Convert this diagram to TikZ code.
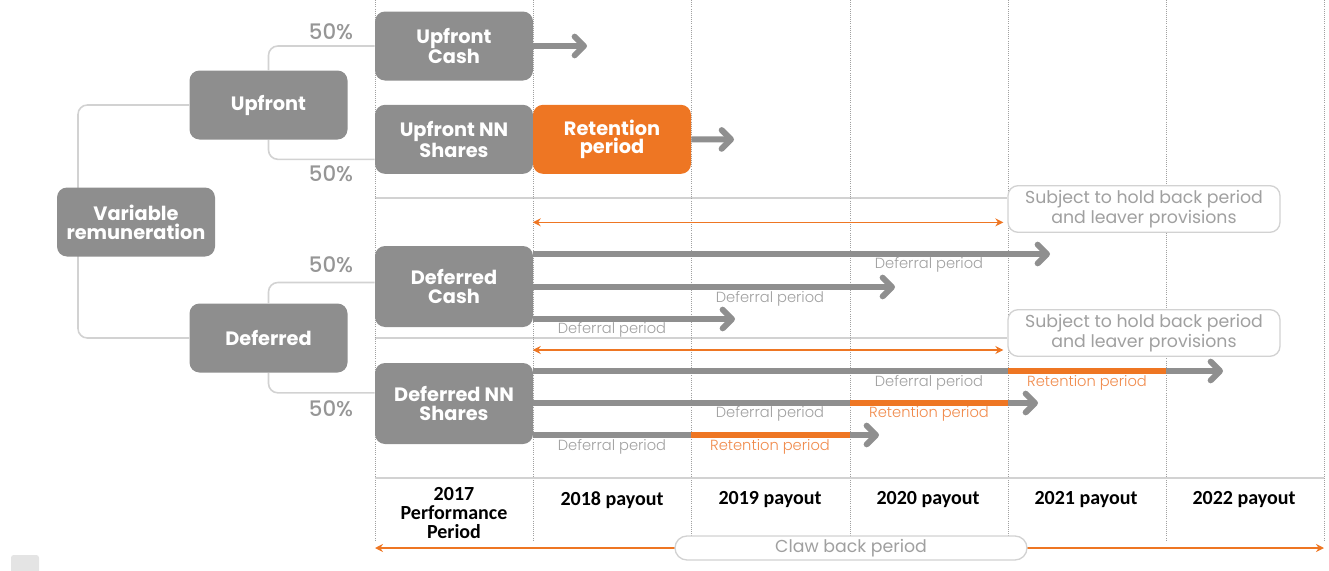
\documentclass[tikz,border=0pt]{standalone}
\usepackage{fontspec}
\usepackage{tikz}
\usetikzlibrary{arrows.meta, positioning, calc, backgrounds}
\newfontfamily\boxfont{Poppins}
\newfontfamily\thinfont{Poppins Light}
\newfontfamily\midfont{Poppins Medium}
\newfontfamily\tablefont{Carlito}
\definecolor{boxgrey}{HTML}{8E8E8E}
\definecolor{nnorange}{HTML}{EE7623}
\definecolor{linegrey}{HTML}{D2D2D2}
\definecolor{arrowgrey}{HTML}{8F8F8F}
\definecolor{labelgrey}{HTML}{A0A0A0}
\definecolor{retorange}{HTML}{F08A4B}
\tikzstyle{greybox} = [rectangle, rounded corners=7.5pt, minimum width=118.5pt, minimum height=51.75pt, align=center, inner sep=0pt, fill=boxgrey, text=white, font=\boxfont\bfseries\fontsize{14.5}{14}\selectfont]
\tikzstyle{retbox} = [greybox, fill=nnorange]
\tikzstyle{pct} = [text=labelgrey!110, font=\midfont\fontsize{16}{16}\selectfont]
\tikzstyle{holdbox} = [rectangle, rounded corners=7.5pt, minimum width=204pt, minimum height=34.5pt, align=center, draw=linegrey, line width=1pt, fill=white, text=labelgrey, font=\boxfont\fontsize{13}{15}\selectfont]
\tikzstyle{clawbox} = [rectangle, rounded corners=9pt, minimum width=264pt, minimum height=18pt, inner sep=1pt, draw=linegrey, line width=1pt, fill=white, text=labelgrey, font=\boxfont\fontsize{13}{13}\selectfont]
\tikzstyle{payarrow} = [draw=arrowgrey, line width=4.5pt, -{Straight Barb[round, length=7pt, width=14pt]}]
\tikzstyle{retbar} = [draw=nnorange, line width=4.5pt]
\tikzstyle{holdarrow} = [draw=nnorange, line width=1.1pt, {Stealth[length=6pt, width=6pt]}-{Stealth[length=6pt, width=6pt]}]
\tikzstyle{sepline} = [draw=linegrey, line width=1.2pt]
\tikzstyle{bracket} = [draw=linegrey, line width=1.2pt, rounded corners=7pt]
\tikzstyle{colline} = [draw=labelgrey, densely dotted, line width=0.6pt]
\tikzstyle{deflab} = [text=labelgrey, font=\thinfont\fontsize{11}{12}\selectfont]
\tikzstyle{retlab} = [deflab, text=retorange]
\tikzstyle{payout} = [align=center, font=\tablefont\bfseries\fontsize{15}{14.5}\selectfont]

\begin{document}
\begin{tikzpicture}[x=0.75pt, y=-0.75pt, node distance=118.5pt]
\useasboundingbox (0,0) rectangle (1329,571);
\foreach \cx in {375,533,691,850,1008,1166,1324} \draw[colline] (\cx,0) -- (\cx,540);

\node (var) [greybox] at (136,222) {Variable\\remuneration};
\node (up) [greybox] at (268.5,105) {Upfront};
\node (def) [greybox] at (268.5,338) {Deferred};
\node (upcash) [greybox] at (454,46) {Upfront\\Cash};
\node (upnn) [greybox, below of=upcash, node distance=70pt] {Upfront NN\\Shares};
\node (ret) [retbox, right of=upnn] {Retention\\period};
\node (defcash) [greybox, minimum height=60.75pt] at (454,286.5) {Deferred\\Cash};
\node (defnn) [greybox, minimum height=60.75pt, below of=defcash, node distance=87.75pt] {Deferred NN\\Shares};

\node (p1) [pct] at (331,32) {50\%};
\node (p2) [pct] at (331,174) {50\%};
\node (p3) [pct] at (331,265) {50\%};
\node (p4) [pct] at (331,409) {50\%};

\node (hold1) [holdbox] at (1144,209) {Subject to hold back period\\and leaver provisions};
\node (hold2) [holdbox, below of=hold1, node distance=93pt] {Subject to hold back period\\and leaver provisions};

\begin{scope}[on background layer]
\coordinate (vt) at (78,222);
\draw[bracket] (up.west) -| (vt) |- (def.west);
\draw[bracket] (upcash.west) -| (up.north);
\draw[bracket] ([yshift=-15pt]upnn.west) -| (up.south);
\draw[bracket] ([yshift=3pt]defcash.west) -| (def.north);
\draw[bracket] ([yshift=8pt]defnn.west) -| (def.south);
\draw[sepline] ([yshift=8.25pt]hold1.west -| upnn.west) -- ([yshift=8.25pt]hold1.west);
\draw[sepline] ([yshift=-3.75pt]hold2.west -| defnn.west) -- ([yshift=-3.75pt]hold2.west);
\end{scope}
\draw[holdarrow, shorten >=3pt] ([yshift=-10pt]hold1.west -| ret.west) -- ([yshift=-10pt]hold1.west);
\draw[holdarrow, shorten >=3pt] ([yshift=-12.75pt]hold2.west -| ret.west) -- ([yshift=-12.75pt]hold2.west);

\coordinate (tc) at (587,46);
\coordinate (tr) at (734,139.5);
\coordinate (dc1) at (1050,254);
\coordinate (dc2) at (895,287);
\coordinate (dc3) at (735,319);
\coordinate (dn1) at (1223,371);
\coordinate (dn2) at (1038,403);
\coordinate (dn3) at (879,435);
\draw[payarrow] (upcash.east) -- (tc);
\draw[payarrow] (ret.east) -- (tr);
\foreach \t in {dc1,dc2,dc3} \draw[payarrow] (defcash.east |- \t) -- (\t);
\foreach \t in {dn1,dn2,dn3} \draw[payarrow] (defnn.east |- \t) -- (\t);
\draw[retbar] (1008,371) -- (1166,371);
\draw[retbar] (850,403) -- (1008,403);
\draw[retbar] (691,435) -- (850,435);

\node (dl1) [deflab] at (929,265) {Deferral period};
\node (dl2) [deflab] at (770,299) {Deferral period};
\node (dl3) [deflab] at (612,330) {Deferral period};
\node (dl4) [deflab] at (929,383) {Deferral period};
\node (rl4) [retlab] at (1087,383) {Retention period};
\node (dl5) [deflab] at (770,414) {Deferral period};
\node (rl5) [retlab] at (929,414) {Retention period};
\node (dl6) [deflab] at (612,447) {Deferral period};
\node (rl6) [retlab] at (770,447) {Retention period};

\draw[sepline] (375,478) -- (1324,478);
\node (h17) [payout] at (454,513) {2017\\Performance\\Period};
\node (h18) [payout] at (612,500) {2018 payout};
\node (h19) [payout, right of=h18] {2019 payout};
\node (h20) [payout, right of=h19] {2020 payout};
\node (h21) [payout, right of=h20] {2021 payout};
\node (h22) [payout, right of=h21] {2022 payout};

\coordinate (clawl) at (375,548);
\coordinate (clawr) at (1324,548);
\draw[holdarrow] (clawl) -- (clawr);
\node (claw) [clawbox] at (851,548) {Claw back period};

\fill[linegrey!60, rounded corners=2pt] (11,555) rectangle (39,575);
\end{tikzpicture}
\end{document}
